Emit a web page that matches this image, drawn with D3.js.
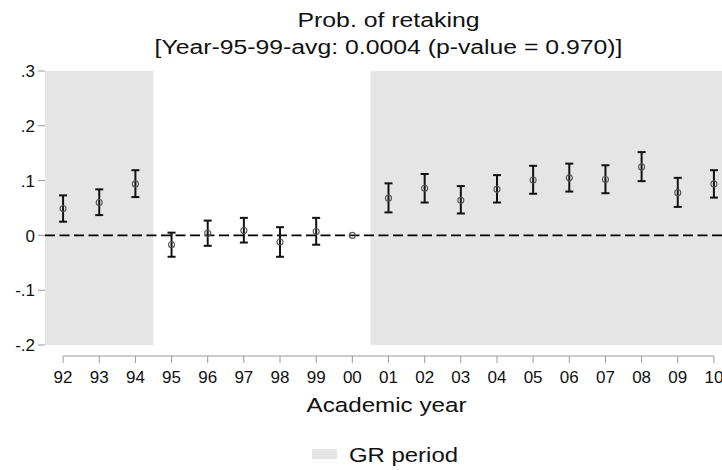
<!DOCTYPE html>
<html><head><meta charset="utf-8">
<script src="https://cdn.jsdelivr.net/npm/d3@7"></script>
<style>body{margin:0;background:#fff}svg{display:block;font-family:"Liberation Sans",Arial,sans-serif}</style>
</head><body><svg id="c" width="722" height="470"></svg>
<script>
const years = ["92","93","94","95","96","97","98","99","00","01","02","03","04","05","06","07","08","09","10"];
const estimates = [0.049,0.060,0.094,-0.017,0.004,0.009,-0.012,0.007,0.000,0.068,0.086,0.064,0.084,0.101,0.105,0.102,0.125,0.078,0.094];
const ciLow  = [0.025,0.037,0.070,-0.039,-0.019,-0.013,-0.039,-0.017,null,0.042,0.060,0.040,0.060,0.076,0.080,0.077,0.099,0.052,0.069];
const ciHigh = [0.073,0.084,0.119,0.005,0.027,0.032,0.015,0.032,null,0.095,0.112,0.090,0.110,0.127,0.131,0.128,0.152,0.105,0.119];
const yTicks = [0.3,0.2,0.1,0,-0.1,-0.2];
const yTickLabels = [".3",".2",".1","0","-.1","-.2"];
const shaded = [[-0.5,2.5],[8.5,18.5]];
const titleLines = ["Prob. of retaking","[Year-95-99-avg: 0.0004 (p-value = 0.970)]"];

const svg = d3.select("#c");
const x = d3.scaleLinear().domain([-0.5,18.5]).range([45,732]);
const y = d3.scaleLinear().domain([-0.2,0.3]).range([345,71]);

// shading
svg.selectAll("rect.sh").data(shaded).join("rect").attr("class","sh")
  .attr("x",d=>x(d[0])).attr("width",d=>x(d[1])-x(d[0]))
  .attr("y",y(0.3)).attr("height",y(-0.2)-y(0.3)).attr("fill","#e5e5e5");

// y axis ticks
const ya = svg.append("g");
yTicks.forEach((t,i)=>{
  ya.append("line").attr("x1",38).attr("x2",45).attr("y1",y(t)).attr("y2",y(t)).attr("stroke","#999").attr("stroke-width",1);
  ya.append("text").attr("x",35).attr("y",y(t)).attr("dy","0.36em").attr("text-anchor","end")
    .attr("font-size",17).attr("fill","#111").text(yTickLabels[i]);
});

// x axis
const xa = svg.append("g").attr("transform","translate(0,356)");
xa.append("line").attr("x1",x(0)).attr("x2",x(18)).attr("stroke","#999");
years.forEach((yr,i)=>{
  xa.append("line").attr("x1",x(i)).attr("x2",x(i)).attr("y1",0).attr("y2",7).attr("stroke","#999");
  xa.append("text").attr("x",x(i)).attr("y",27).attr("text-anchor","middle").attr("font-size",17).attr("fill","#111").text(yr);
});

// zero line
svg.append("line").attr("x1",x(-0.5)).attr("x2",722).attr("y1",y(0)).attr("y2",y(0))
  .attr("stroke","#000").attr("stroke-width",1.6).attr("stroke-dasharray","10,4.5");

// error bars
const g = svg.append("g");
years.forEach((yr,i)=>{
  if(ciLow[i]!==null){
    const cx = x(i);
    g.append("line").attr("x1",cx).attr("x2",cx).attr("y1",y(ciLow[i])).attr("y2",y(ciHigh[i])).attr("stroke","#111").attr("stroke-width",2);
    [ciLow[i],ciHigh[i]].forEach(v=>g.append("line").attr("x1",cx-4).attr("x2",cx+4).attr("y1",y(v)).attr("y2",y(v)).attr("stroke","#111").attr("stroke-width",2));
  }
});
g.selectAll("circle").data(estimates).join("circle")
  .attr("cx",(d,i)=>x(i)).attr("cy",d=>y(d)).attr("r",3)
  .attr("fill","none").attr("stroke","#555").attr("stroke-width",1.1);

// title
svg.append("text").attr("x",388.5).attr("y",27).attr("text-anchor","middle").attr("font-size",20)
  .attr("textLength",182).attr("lengthAdjust","spacingAndGlyphs").attr("fill","#111").text(titleLines[0]);
svg.append("text").attr("x",388.5).attr("y",54).attr("text-anchor","middle").attr("font-size",20)
  .attr("textLength",468).attr("lengthAdjust","spacingAndGlyphs").attr("fill","#111").text(titleLines[1]);

// axis title
svg.append("text").attr("x",386.5).attr("y",412).attr("text-anchor","middle").attr("font-size",20.5)
  .attr("textLength",160).attr("lengthAdjust","spacingAndGlyphs").attr("fill","#111").text("Academic year");

// legend
svg.append("rect").attr("x",312).attr("y",449).attr("width",25).attr("height",10).attr("fill","#e5e5e5");
svg.append("text").attr("x",349).attr("y",462).attr("font-size",20.5)
  .attr("textLength",109).attr("lengthAdjust","spacingAndGlyphs").attr("fill","#111").text("GR period");
</script></body></html>
